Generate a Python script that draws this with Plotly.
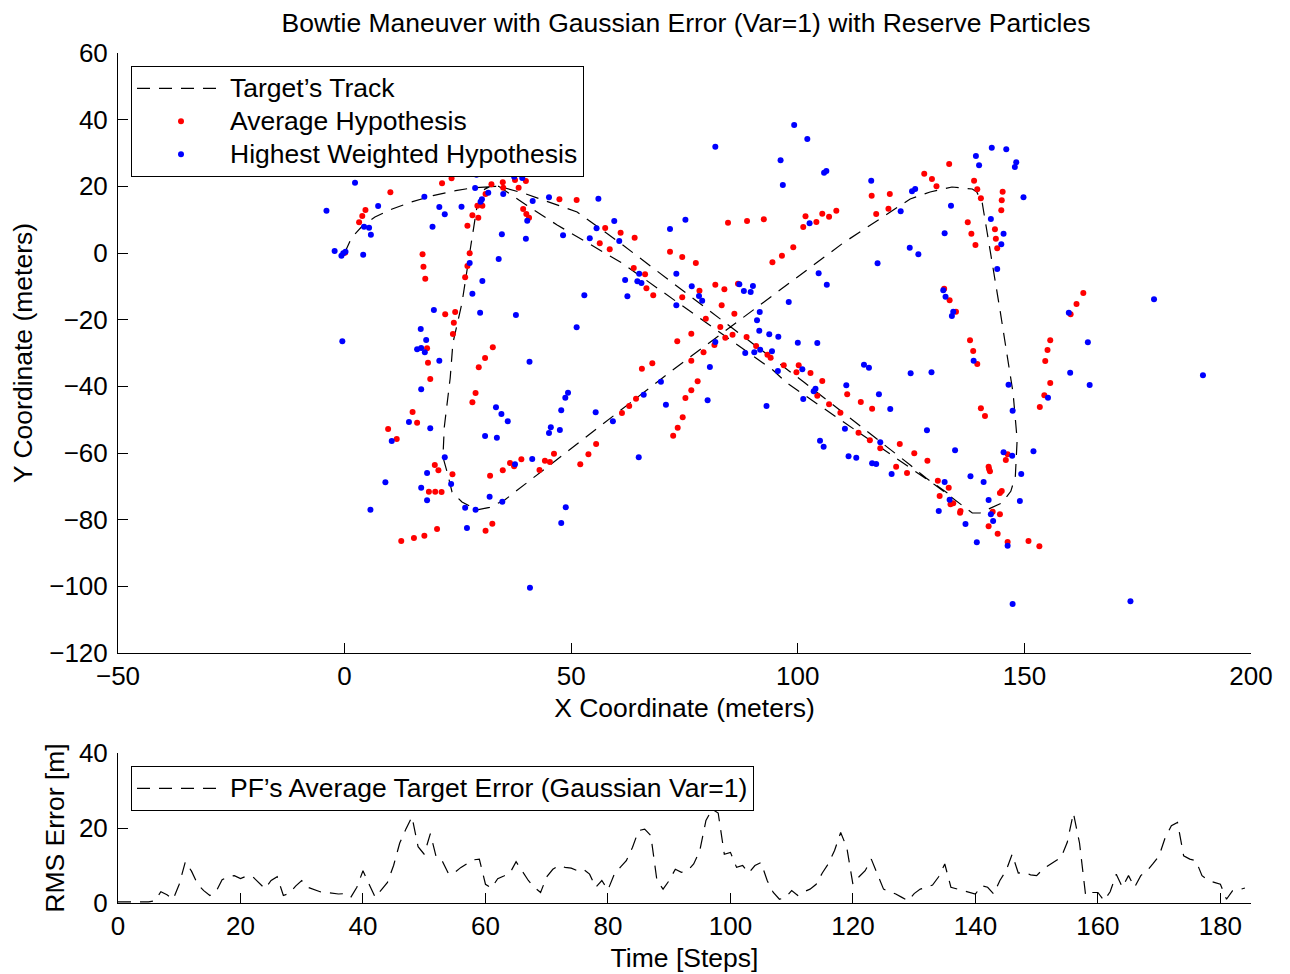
import plotly.graph_objects as go

# ---------------- data ----------------
track_x = [0, 0.3, 1.0, 1.5, 4.1, 6.7, 10.5, 14.5, 19.5, 24.5, 28.5, 30.6, 34.0,
           40.0, 46.9, 61.2, 94.5, 97.6, 123.0, 128.3, 130.3, 138.5, 140.2, 145.0,
           147.0, 148.0, 148.4, 147.5, 146.4, 144.6, 141.8, 140.7, 139.5, 138.5,
           134.0, 129.2, 124.8, 110.0, 72.4, 60.1, 35.4, 32.0, 29.2, 25.9, 23.7,
           22.8, 21.7, 22.0, 22.4, 23.3, 23.9, 25.9, 27.7, 29.2, 30.6, 32.0, 34.0,
           39.4, 51.3, 60.8, 86.1, 101.6, 124.8, 128.3, 133.0]
track_y = [0, 1.0, 3.3, 4.5, 8.4, 10.8, 13.2, 15.2, 17.2, 18.7, 19.6, 19.8, 20.0,
           14.5, 8.4, -3.0, -35.1, -39.0, -62.7, -67.8, -69.6, -78.0, -78.0, -75.0,
           -71.5, -67.0, -56.0, -42.0, -33.0, -17.0, 6.0, 15.0, 18.3, 19.2,
           19.8, 18.3, 16.2, 3.0, -35.1, -48.0, -74.0, -76.3, -77.1, -74.7, -71.7,
           -66.6, -61.2, -52.2, -47.1, -37.5, -27.0, -15.0, 0.9, 13.8, 18.9, 19.9, 20.0,
           18.0, 12.3, 3.0, -23.1, -39.0, -63.6, -67.5, -72.0]

avg_x = [21.4, 21.5, 23.6, 10.1, 4.6, 3.9, 3.2, 0.1, 32.4, 34.9, 37.6, 40.0, 35.0, 38.4,
         31.1, 29.3, 30.4, 28.2, 29.5, 27.1, 39.4, 40.1, 40.7, 47.4, 51.2, 57.5, 56.3,
         58.5, 17.2, 17.4, 17.8, 27.6, 27.1, 26.6, 22.2, 24.4, 24.1, 23.9, 18.2, 32.7,
         31.0, 29.6, 18.4,
         84.6, 88.8, 92.5, 101.7, 101.2, 104.1, 105.4, 106.9, 108.5, 116.3, 120.3, 117.3,
         120.0, 99.0, 96.5, 94.4, 60.9, 64.0, 71.8, 74.5, 77.5, 63.8, 66.3, 66.6, 68.1,
         74.5, 78.3, 81.8, 83.8, 86.8, 83.2, 86.0, 79.7, 82.9, 84.0, 85.6, 88.7, 76.5,
         73.4, 81.6, 79.2, 76.5, 90.8, 93.3, 94.0, 67.9, 65.6, 96.9, 100.2,
         133.4, 127.9, 129.6, 130.6, 138.9, 139.6, 140.4, 145.2, 145.0, 144.9, 137.5,
         138.3, 139.2, 143.5, 143.7, 144.0, 132.3, 133.5, 134.9, 160.2, 161.5, 163.0,
         138.0, 138.7, 139.6, 155.7, 155.1, 154.6,
         18.9, 28.9, 28.2, 15.0, 16.0, 9.6, 11.5, 19.9, 20.7, 23.8, 18.6, 20.0, 21.4,
         12.5, 15.3, 17.6, 20.4, 32.6, 31.1, 32.1, 34.9, 36.5, 37.4, 39.0, 44.2, 45.3,
         46.2, 43.0, 52.0, 53.8, 55.5,
         77.9, 76.5, 75.2, 74.6, 73.5, 72.5, 64.3, 62.8, 61.2, 99.7, 102.8, 105.4, 104.3,
         106.9, 110.9, 113.9, 116.4, 109.4, 113.4, 115.9, 118.2, 122.5, 125.7, 121.7,
         124.1,
         155.7, 154.4, 153.4, 140.4, 141.3, 128.6, 146.3, 145.9, 142.1, 142.2, 142.4,
         130.9, 133.3, 131.3, 133.7, 134.3, 135.9, 135.8, 145.0, 144.6, 143.0, 144.6,
         142.1, 144.1, 146.3, 150.9, 153.3]
avg_y = [23.9, 20.9, 22.4, 18.2, 12.9, 11.1, 9.2, 0.1, 20.6, 21.2, 21.9, 21.6, 19.6, 19.6,
         17.7, 14.2, 14.2, 11.3, 10.6, 8.2, 13.2, 11.7, 10.6, 16.1, 15.9, 7.5, 2.9,
         1.1, -0.4, -4.1, -7.7, -0.1, -3.9, -7.3, -18.4, -17.7, -20.9, -24.3, -28.6, -28.3,
         -31.5, -34.3, -32.9,
         9.1, 9.6, 10.1, 11.0, 7.8, 9.3, 11.8, 10.9, 12.7, 17.2, 17.7, 11.7,
         13.3, 1.7, -0.8, -2.8, 6.1, 4.6, 0.4, -1.2, -3.0, -4.5, -6.4, -10.6, -12.7,
         -13.3, -11.3, -9.5, -10.9, -9.2, -15.7, -18.2, -19.7, -22.2, -25.4, -24.5, -25.2, -24.2,
         -26.5, -27.6, -29.8, -32.3, -27.9, -30.5, -31.4, -33.1, -34.7, -33.7, -33.7,
         26.7, 23.8, 22.2, 20.0, 21.7, 19.1, 16.4, 18.4, 15.8, 12.8, 9.2,
         5.8, 2.4, 7.1, 4.3, 1.4, -10.7, -14.2, -17.6, -18.4, -15.3, -12.0,
         -26.2, -29.4, -33.3, -26.2, -29.1, -32.4,
         -37.8, -42.0, -44.8, -47.7, -50.9, -52.8, -55.8, -63.6, -65.2, -66.4, -71.6, -71.6, -71.7,
         -86.4, -85.5, -84.8, -82.8, -81.2, -83.3, -66.8, -65.2, -63.0, -64.0, -61.9, -62.3, -62.7,
         -60.2, -65.1, -63.4, -60.4, -57.3,
         -38.5, -41.2, -43.5, -49.3, -52.4, -54.8, -43.7, -45.9, -48.0, -35.8, -36.0, -38.4, -42.8,
         -45.4, -42.4, -44.7, -46.7, -47.9, -53.9, -56.2, -58.6, -57.3, -60.1, -64.1,
         -66.0,
         -39.0, -42.7, -46.2, -46.6, -48.9, -62.3, -60.4, -62.1, -64.1, -64.8, -65.5,
         -68.3, -70.4, -72.9, -75.4, -75.1, -77.4, -77.9, -71.4, -72.0, -77.6, -78.4,
         -82.0, -84.2, -86.7, -86.4, -88.0]

best_x = [2.3, -4.0, 7.4, 17.6, 20.9, 22.1, 19.4, 25.8, 29.1, 28.8, 37.4, 39.2, 35.0, 31.7,
          30.3, 30.0, 41.5, 45.1, 56.0, 59.5, 55.6, 54.1, 60.6, 48.2, 40.0, 34.7, 40.3,
          4.3, 5.4, 5.8, -2.2, -0.7, -0.3, 0.2, 4.1, 34.0, 27.6, 30.4, 28.2, 52.9, 29.9,
          37.8, 19.7, 16.8, 18.0, 16.0, 16.9, 17.7, -0.5, 20.9, 40.8, 51.2,
          99.2, 102.1, 81.8, 96.2, 96.7, 105.8, 106.3, 116.2, 125.2, 125.9, 122.7, 124.7,
          126.6, 117.6, 75.2, 71.8, 102.6, 104.6, 106.4, 98.0, 65.0, 61.9, 64.6, 65.5,
          62.4, 73.2, 76.6, 73.2, 78.2, 78.9, 87.1, 88.1, 89.6, 90.1, 91.6, 91.0, 91.5,
          93.7, 95.7, 100.0, 104.3, 81.8, 94.3, 91.7, 90.4, 88.4, 114.6, 115.7, 80.6, 101.0,
          142.8, 146.0, 139.3, 140.0, 148.2, 147.9, 149.8, 133.8, 132.4, 142.6, 145.4,
          144.9, 144.0, 132.1, 132.6, 134.3, 134.0, 159.8, 164.0, 178.6, 138.8,
          16.9, 18.9, 14.2, 10.4, 33.4, 34.6, 36.0, 31.0, 33.6, 49.3, 48.7, 47.8, 55.4,
          59.2, 45.5, 47.5, 45.1, 22.1, 18.2, 16.9, 18.2, 23.5, 9.0, 5.7, 26.6, 28.9, 27.0,
          32.0, 34.8, 37.6, 41.4, 48.8, 47.8, 40.9,
          69.8, 66.0, 70.9, 80.1, 64.9, 93.1, 95.6, 103.9, 103.5, 101.2, 110.7, 117.9,
          120.4, 124.9, 110.4, 104.9, 105.7, 111.2, 112.9, 116.4, 117.3, 118.2, 120.7,
          129.5, 160.1, 164.4, 189.4, 146.5, 155.2, 147.4, 128.5, 134.7, 145.4, 147.3,
          152.0, 149.3, 138.1, 141.0, 132.4, 133.5, 131.1, 142.1, 149.0, 142.6, 143.1,
          137.0, 139.5, 146.3, 147.4, 173.4]
best_y = [21.1, 12.7, 14.1, 16.9, 13.8, 11.6, 7.9, 13.9, 23.5, 19.5, 22.9, 22.5, 17.7, 18.1,
          16.1, 15.4, 15.6, 16.7, 16.3, 9.6, 7.4, 4.4, 3.6, 5.3, 4.3, 5.6, 9.7,
          7.9, 7.6, 5.5, 0.6, -0.8, -0.1, 0.4, -0.5, -1.8, -3.0, -8.4, -12.2, -12.7, -17.9,
          -18.6, -17.1, -22.8, -26.1, -28.9, -28.5, -29.8, -26.5, -32.3, -32.6, -22.3,
          38.4, 34.2, 31.9, 27.8, 20.4, 24.1, 24.6, 21.7, 18.5, 19.2, 12.5, 1.6,
          -0.4, -3.1, 10.0, 7.2, 8.9, -6.1, -9.5, -14.7, -6.2, -8.1, -8.5, -9.0,
          -13.0, -6.2, -10.0, -15.7, -12.9, -14.3, -9.4, -11.4, -11.7, -9.9, -17.7, -20.2, -23.3,
          -24.4, -25.1, -26.9, -27.0, -26.7, -29.5, -29.0, -29.8, -30.0, -33.5, -34.4, -34.2, -34.9,
          31.6, 31.1, 29.1, 26.3, 27.2, 25.8, 16.7, 14.2, 5.9, 10.2, 5.8,
          2.6, -4.8, -11.2, -13.1, -17.6, -18.9, -17.9, -26.8, -13.9, -32.3,
          -40.9, -52.6, -50.7, -56.4, -46.3, -48.3, -50.5, -54.9, -55.4, -41.9, -43.4, -47.2, -47.8,
          -50.5, -52.3, -53.1, -54.0, -61.3, -66.0, -70.4, -74.2, -69.3, -68.8, -77.0, -76.4, -77.0, -82.5,
          -73.1, -74.6, -63.4, -61.8, -76.3, -81.0, -100.4,
          -38.6, -42.5, -45.5, -44.2, -61.3, -45.9, -35.4, -40.7, -41.5, -43.8, -39.7, -42.4,
          -46.8, -36.1, -52.7, -56.3, -58.1, -61.0, -61.4, -63.1, -63.3, -56.8, -66.3,
          -35.8, -35.9, -39.6, -36.7, -39.5, -43.4, -47.3, -53.2, -59.2, -59.8, -60.8,
          -59.5, -66.3, -67.0, -68.7, -68.7, -74.0, -77.4, -74.1, -74.4, -78.4, -80.4,
          -81.3, -86.8, -87.8, -105.3, -104.5]

rms_error = [0.3, 0.3, 0.4, 0.5, 0.4, 0.3, 0.6, 3.0, 2.2, 1.0,
             5.0, 11.0, 8.5, 5.0, 3.3, 2.0, 3.0, 6.2, 7.0, 7.3,
             6.5, 7.2, 7.0, 5.5, 3.8, 6.0, 7.0, 2.0, 2.6, 4.5,
             6.0, 4.2, 3.5, 3.0, 2.8, 2.6, 2.4, 2.5, 1.5, 4.2,
             8.6, 5.0, 1.5, 3.5, 5.5, 10.0, 16.0, 19.7, 23.0, 15.0,
             13.0, 18.5, 12.0, 11.0, 7.7, 8.2, 9.5, 10.5, 11.5, 11.7,
             5.0, 4.0, 6.5, 7.2, 8.0, 11.0, 8.5, 6.0, 4.2, 2.8,
             7.0, 9.0, 10.0, 9.5, 9.3, 8.6, 9.0, 7.7, 4.2, 6.0,
             3.5, 7.5, 9.5, 11.3, 14.8, 19.3, 19.7, 18.0, 6.0, 3.7,
             6.0, 9.0, 8.2, 8.6, 10.4, 14.0, 22.0, 25.0, 24.0, 13.0,
             13.5, 9.5, 10.0, 8.0, 10.0, 10.8, 6.0, 2.8, 1.0, 1.5,
             3.3, 2.0, 3.0, 3.7, 5.0, 8.0, 10.5, 14.0, 18.8, 14.8,
             5.0, 7.0, 8.6, 11.7, 7.7, 3.7, 3.0, 2.4, 1.5, 0.6,
             2.5, 3.7, 4.2, 4.8, 7.0, 10.4, 4.2, 3.8, 3.3, 3.0,
             2.4, 4.6, 4.2, 2.4, 6.0, 8.6, 13.0, 8.0, 8.2, 7.5,
             7.3, 9.0, 10.0, 11.0, 12.2, 16.2, 24.0, 16.0, 2.0, 2.8,
             2.8, 0.6, 3.0, 7.7, 4.2, 7.3, 4.2, 7.3, 8.5, 10.5,
             12.6, 17.5, 20.6, 21.5, 12.6, 11.7, 11.3, 7.3, 6.0, 5.5,
             5.0, 1.0, 3.3, 3.5, 4.0]
time_steps = list(range(len(rms_error)))

x_ticks_main = [-50, 0, 50, 100, 150, 200]
y_ticks_main = [-120, -100, -80, -60, -40, -20, 0, 20, 40, 60]
x_ticks_rms = [0, 20, 40, 60, 80, 100, 120, 140, 160, 180]
y_ticks_rms = [0, 20, 40]

# ---------------- figure ----------------
W, H = 1290, 974
FONT = "Liberation Sans, Arial, Helvetica, sans-serif"
DASH = "13px,9px"
TICK_SIZE = 26
TEXT_SIZE = 26.5


def legend_label(text):
    return '<span style="font-size:%spx">%s</span>' % (TEXT_SIZE, text)


fig = go.Figure()
fig.add_trace(go.Scatter(x=track_x, y=track_y, mode="lines",
                         name=legend_label("Target\u2019s Track"),
                         line=dict(color="black", width=1.2, dash=DASH),
                         xaxis="x", yaxis="y", legend="legend"))
fig.add_trace(go.Scatter(x=avg_x, y=avg_y, mode="markers",
                         name=legend_label("Average Hypothesis"),
                         marker=dict(color="#ff0000", size=6, line=dict(width=0)),
                         xaxis="x", yaxis="y", legend="legend"))
fig.add_trace(go.Scatter(x=best_x, y=best_y, mode="markers",
                         name=legend_label("Highest Weighted Hypothesis"),
                         marker=dict(color="#0000ff", size=6, line=dict(width=0)),
                         xaxis="x", yaxis="y", legend="legend"))
fig.add_trace(go.Scatter(x=time_steps, y=rms_error, mode="lines",
                         name=legend_label("PF\u2019s Average Target Error (Gaussian Var=1)"),
                         line=dict(color="black", width=1.2, dash=DASH),
                         xaxis="x2", yaxis="y2", legend="legend2"))

xd = [118 / W, 1251 / W]
axis_common = dict(showline=True, linecolor="black", linewidth=1, mirror=False,
                   ticks="inside", ticklen=10, tickcolor="black", tickwidth=1,
                   showgrid=False, zeroline=False, automargin=False,
                   tickfont=dict(family=FONT, size=TICK_SIZE, color="black"))
title_font = dict(family=FONT, size=TEXT_SIZE, color="black")

fig.update_layout(
    width=W, height=H,
    margin=dict(l=0, r=0, t=0, b=0),
    paper_bgcolor="white", plot_bgcolor="white",
    font=dict(family=FONT, size=TICK_SIZE, color="black"),
    title=dict(text="Bowtie Maneuver with Gaussian Error (Var=1) with Reserve Particles",
               x=686 / W, xanchor="center", y=1 - 23 / H, yanchor="middle",
               font=dict(family=FONT, size=TEXT_SIZE, color="black")),
    xaxis=dict(domain=xd, range=[-50, 200], tickvals=x_ticks_main, anchor="y",
               title=dict(text="X Coordinate (meters)", standoff=8, font=title_font), **axis_common),
    yaxis=dict(domain=[1 - 653 / H, 1 - 53 / H], range=[-120, 60], tickvals=y_ticks_main,
               anchor="x", ticklabelstandoff=4,
               title=dict(text="Y Coordinate (meters)", standoff=8, font=title_font),
               **axis_common),
    xaxis2=dict(domain=xd, range=[0, 185], tickvals=x_ticks_rms, anchor="y2",
                title=dict(text="Time [Steps]", standoff=8, font=title_font), **axis_common),
    yaxis2=dict(domain=[1 - 903 / H, 1 - 753 / H], range=[0, 40], tickvals=y_ticks_rms,
                anchor="x2", ticklabelstandoff=4,
                title=dict(text="RMS Error [m]", standoff=6, font=title_font),
                **axis_common),
    legend=dict(x=131 / W, y=1 - 66 / H, xanchor="left", yanchor="top",
                bgcolor="white", bordercolor="black", borderwidth=1, itemwidth=88,
                font=dict(family=FONT, size=23, color="black"), tracegroupgap=0),
    legend2=dict(x=131 / W, y=1 - 766 / H, xanchor="left", yanchor="top",
                 bgcolor="white", bordercolor="black", borderwidth=1, itemwidth=88,
                 font=dict(family=FONT, size=23, color="black")),
    showlegend=True,
)

fig.write_html("out.html", config={"displayModeBar": False},
               post_script="document.body.style.margin='0';")
